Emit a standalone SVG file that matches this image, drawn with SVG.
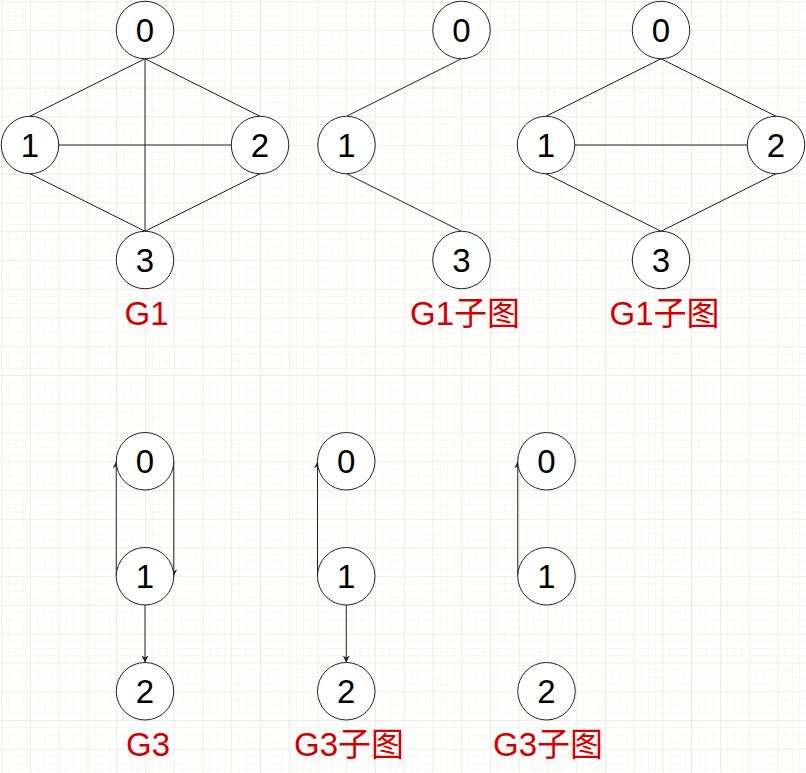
<svg xmlns="http://www.w3.org/2000/svg" width="806" height="773" viewBox="0 0 806 773">
<defs>
<pattern id="minor" x="1.25" y="1.25" width="7.1875" height="7.1875" patternUnits="userSpaceOnUse">
<path d="M0,0 H7.1875 M0,0 V7.1875" fill="none" stroke="#f0f0ec" stroke-width="1"/>
</pattern>
<pattern id="major" x="1.25" y="1.25" width="28.75" height="28.75" patternUnits="userSpaceOnUse">
<path d="M0,0 H28.75 M0,0 V28.75" fill="none" stroke="#e3e3dc" stroke-width="1"/>
</pattern>
<marker id="arr" markerUnits="userSpaceOnUse" markerWidth="8" markerHeight="7" refX="7" refY="3.5" orient="auto">
<path d="M0,0 L7,3.5 L0,7 L2,3.5 z" fill="#222"/>
</marker>
</defs>
<style>
.n circle{fill:#fff;stroke:#222;stroke-width:1}
.n text{font-family:"Liberation Sans",Arial,sans-serif;font-size:33px;fill:#000;text-anchor:middle}
.e line{stroke:#222;stroke-width:1}
.a line{stroke:#222;stroke-width:1;marker-end:url(#arr)}
.lbl{font-family:"Liberation Sans","Noto Sans CJK SC",sans-serif;font-size:33px;fill:#d40000;text-anchor:middle}
</style>
<rect width="806" height="773" fill="#fff"/>
<rect width="806" height="773" fill="url(#minor)"/>
<rect width="806" height="773" fill="url(#major)"/>

<g id="connectors">
<g class="e">
<line x1="145" y1="58.75" x2="30" y2="116.25"/>
<line x1="145" y1="58.75" x2="260" y2="116.25"/>
<line x1="145" y1="58.75" x2="145" y2="231.25"/>
<line x1="58.75" y1="145" x2="231.25" y2="145"/>
<line x1="30" y1="173.75" x2="145" y2="231.25"/>
<line x1="260" y1="173.75" x2="145" y2="231.25"/>
<line x1="461.5" y1="58.75" x2="346.5" y2="116.25"/>
<line x1="346.5" y1="173.75" x2="461.5" y2="231.25"/>
<line x1="661" y1="58.75" x2="546" y2="116.25"/>
<line x1="661" y1="58.75" x2="776" y2="116.25"/>
<line x1="574.75" y1="145" x2="747.25" y2="145"/>
<line x1="546" y1="173.75" x2="661" y2="231.25"/>
<line x1="776" y1="173.75" x2="661" y2="231.25"/>
</g>
<g class="a">
<line x1="116.25" y1="576.25" x2="116.25" y2="461.25"/>
<line x1="173.75" y1="461.25" x2="173.75" y2="576.25"/>
<line x1="145" y1="605" x2="145" y2="662.5"/>
<line x1="317.5" y1="576.25" x2="317.5" y2="461.25"/>
<line x1="346.25" y1="605" x2="346.25" y2="662.5"/>
<line x1="517.75" y1="576.25" x2="517.75" y2="461.25"/>
</g>
</g>

<g id="g1-n0" class="n"><circle cx="145" cy="30" r="28.75"/><text x="145" y="41.8">0</text></g>
<g id="g1-n1" class="n"><circle cx="30" cy="145" r="28.75"/><text x="30" y="156.8">1</text></g>
<g id="g1-n2" class="n"><circle cx="260" cy="145" r="28.75"/><text x="260" y="156.8">2</text></g>
<g id="g1-n3" class="n"><circle cx="145" cy="260" r="28.75"/><text x="145" y="271.8">3</text></g>

<g id="g1a-n0" class="n"><circle cx="461.5" cy="30" r="28.75"/><text x="461.5" y="41.8">0</text></g>
<g id="g1a-n1" class="n"><circle cx="346.5" cy="145" r="28.75"/><text x="346.5" y="156.8">1</text></g>
<g id="g1a-n3" class="n"><circle cx="461.5" cy="260" r="28.75"/><text x="461.5" y="271.8">3</text></g>

<g id="g1b-n0" class="n"><circle cx="661" cy="30" r="28.75"/><text x="661" y="41.8">0</text></g>
<g id="g1b-n1" class="n"><circle cx="546" cy="145" r="28.75"/><text x="546" y="156.8">1</text></g>
<g id="g1b-n2" class="n"><circle cx="776" cy="145" r="28.75"/><text x="776" y="156.8">2</text></g>
<g id="g1b-n3" class="n"><circle cx="661" cy="260" r="28.75"/><text x="661" y="271.8">3</text></g>

<g id="g3-n0" class="n"><circle cx="145" cy="461.25" r="28.75"/><text x="145" y="473">0</text></g>
<g id="g3-n1" class="n"><circle cx="145" cy="576.25" r="28.75"/><text x="145" y="588">1</text></g>
<g id="g3-n2" class="n"><circle cx="145" cy="691.25" r="28.75"/><text x="145" y="703">2</text></g>

<g id="g3a-n0" class="n"><circle cx="346.25" cy="461.25" r="28.75"/><text x="346.25" y="473">0</text></g>
<g id="g3a-n1" class="n"><circle cx="346.25" cy="576.25" r="28.75"/><text x="346.25" y="588">1</text></g>
<g id="g3a-n2" class="n"><circle cx="346.25" cy="691.25" r="28.75"/><text x="346.25" y="703">2</text></g>

<g id="g3b-n0" class="n"><circle cx="546.5" cy="461.25" r="28.75"/><text x="546.5" y="473">0</text></g>
<g id="g3b-n1" class="n"><circle cx="546.5" cy="576.25" r="28.75"/><text x="546.5" y="588">1</text></g>
<g id="g3b-n2" class="n"><circle cx="546.5" cy="691.25" r="28.75"/><text x="546.5" y="703">2</text></g>

<g id="labels">
<text class="lbl" x="146.5" y="325">G1</text>
<text class="lbl" x="465" y="325">G1子图</text>
<text class="lbl" x="664.5" y="325">G1子图</text>
<text class="lbl" x="148" y="756">G3</text>
<text class="lbl" x="349" y="756">G3子图</text>
<text class="lbl" x="548" y="756">G3子图</text>
</g>
</svg>
